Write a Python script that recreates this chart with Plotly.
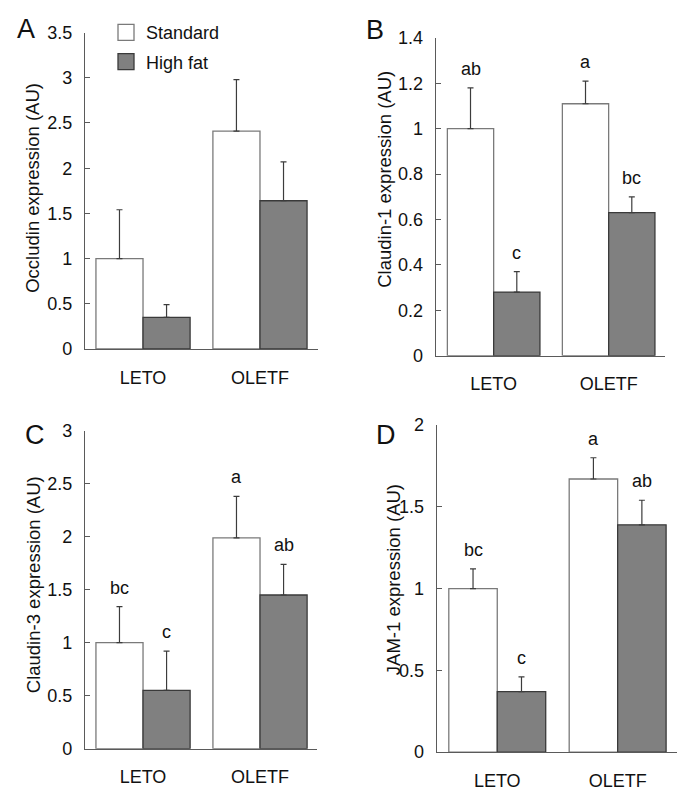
import plotly.graph_objects as go

# Positions below are given in window pixels; FX/FY convert them to figure pixels
# (the page body adds a small offset around the figure).
W, H = 669, 802
FONT = "Liberation Sans, Arial, sans-serif"

categories = ["LETO", "OLETF"]
series_names = ["Standard", "High fat"]

# Panel A - Occludin
occludin_standard = [1.00, 2.41]
occludin_standard_err = [0.54, 0.57]
occludin_highfat = [0.35, 1.64]
occludin_highfat_err = [0.14, 0.43]

# Panel B - Claudin-1
claudin1_standard = [1.00, 1.11]
claudin1_standard_err = [0.18, 0.10]
claudin1_highfat = [0.28, 0.63]
claudin1_highfat_err = [0.09, 0.07]
claudin1_standard_letters = ["ab", "a"]
claudin1_highfat_letters = ["c", "bc"]

# Panel C - Claudin-3
claudin3_standard = [1.00, 1.99]
claudin3_standard_err = [0.34, 0.39]
claudin3_highfat = [0.55, 1.45]
claudin3_highfat_err = [0.37, 0.29]
claudin3_standard_letters = ["bc", "a"]
claudin3_highfat_letters = ["c", "ab"]

# Panel D - JAM-1
jam1_standard = [1.00, 1.67]
jam1_standard_err = [0.12, 0.13]
jam1_highfat = [0.37, 1.39]
jam1_highfat_err = [0.09, 0.15]
jam1_standard_letters = ["bc", "a"]
jam1_highfat_letters = ["c", "ab"]

STD_FILL, STD_LINE = "#ffffff", "#7a7a7a"
HF_FILL, HF_LINE = "#808080", "#3a3a3a"
AX_COL = "#5a5a5a"
TXT = "#111111"
BARGAP = 0.195


def px_x(p):
    return (p - 8) / W


def px_y(p):
    fy = (p - 18.4) / 0.974
    return 1 - fy / H


panels = [
    dict(letter="A", title="Occludin expression (AU)",
         std=occludin_standard, std_err=occludin_standard_err,
         hf=occludin_highfat, hf_err=occludin_highfat_err,
         std_let=None, hf_let=None,
         xdom=(85, 318), ydom=(33, 349), xr=(-0.496, 1.496), yr=(0, 3.5), dtick=0.5,
         title_pos=(33, 188), letter_pos=(26, 29)),
    dict(letter="B", title="Claudin-1 expression (AU)",
         std=claudin1_standard, std_err=claudin1_standard_err,
         hf=claudin1_highfat, hf_err=claudin1_highfat_err,
         std_let=claudin1_standard_letters, hf_let=claudin1_highfat_letters,
         xdom=(435.7, 665), ydom=(38.3, 355.7), xr=(-0.504, 1.49), yr=(0, 1.4), dtick=0.2,
         title_pos=(385, 180), letter_pos=(375, 30)),
    dict(letter="C", title="Claudin-3 expression (AU)",
         std=claudin3_standard, std_err=claudin3_standard_err,
         hf=claudin3_highfat, hf_err=claudin3_highfat_err,
         std_let=claudin3_standard_letters, hf_let=claudin3_highfat_letters,
         xdom=(85, 317), ydom=(430.7, 748.3), xr=(-0.496, 1.487), yr=(0, 3), dtick=0.5,
         title_pos=(33, 585), letter_pos=(35, 435)),
    dict(letter="D", title="JAM-1 expression (AU)",
         std=jam1_standard, std_err=jam1_standard_err,
         hf=jam1_highfat, hf_err=jam1_highfat_err,
         std_let=jam1_standard_letters, hf_let=jam1_highfat_letters,
         xdom=(436.7, 677), ydom=(425, 751.7), xr=(-0.503, 1.493), yr=(0, 2), dtick=0.5,
         title_pos=(393, 580), letter_pos=(386, 435)),
]

fig = go.Figure()
annotations = []
half = (1 - BARGAP) / 4

for i, p in enumerate(panels):
    n = "" if i == 0 else str(i + 1)
    xa, ya = "x" + n, "y" + n
    for vals, errs, fill, line, name in [
        (p["std"], p["std_err"], STD_FILL, STD_LINE, series_names[0]),
        (p["hf"], p["hf_err"], HF_FILL, HF_LINE, series_names[1]),
    ]:
        fig.add_trace(go.Bar(
            x=categories, y=vals, name=name, showlegend=False,
            xaxis=xa, yaxis=ya,
            marker=dict(color=fill, line=dict(color=line, width=1.3)),
            error_y=dict(type="data", array=errs, arrayminus=[0] * len(errs),
                         symmetric=False, color="#3c3c3c", thickness=1.2, width=3),
        ))
    lay_x = dict(domain=[px_x(p["xdom"][0]), px_x(p["xdom"][1])], range=list(p["xr"]),
                 anchor=ya, showline=True, linecolor=AX_COL, linewidth=1.3,
                 ticks="", showgrid=False, zeroline=False,
                 tickfont=dict(family=FONT, size=18, color=TXT),
                 ticklabelstandoff=12, fixedrange=True)
    lay_y = dict(domain=[px_y(p["ydom"][1]), px_y(p["ydom"][0])], range=list(p["yr"]),
                 anchor=xa, showline=True, linecolor=AX_COL, linewidth=1.3,
                 ticks="inside", ticklen=5, tickcolor=AX_COL, tickwidth=1.2,
                 dtick=p["dtick"], tick0=0, showgrid=False, zeroline=False,
                 tickfont=dict(family=FONT, size=18, color=TXT),
                 ticklabelstandoff=8, fixedrange=True)
    fig.update_layout(**{"xaxis" + n: lay_x, "yaxis" + n: lay_y})

    annotations.append(dict(text=p["title"], textangle=-90, xref="paper", yref="paper",
                            x=px_x(p["title_pos"][0]), y=px_y(p["title_pos"][1]),
                            xanchor="center", yanchor="middle", showarrow=False,
                            font=dict(family=FONT, size=18.5, color=TXT)))
    annotations.append(dict(text=p["letter"], xref="paper", yref="paper",
                            x=px_x(p["letter_pos"][0]), y=px_y(p["letter_pos"][1]),
                            xanchor="center", yanchor="middle", showarrow=False,
                            font=dict(family=FONT, size=27, color=TXT)))
    for lets, vals, errs, off in [(p["std_let"], p["std"], p["std_err"], -half),
                                  (p["hf_let"], p["hf"], p["hf_err"], half)]:
        if lets is None:
            continue
        for k, t in enumerate(lets):
            annotations.append(dict(text=t, xref=xa, yref=ya, x=k + off, y=vals[k] + errs[k],
                                    xanchor="center", yanchor="middle", yshift=19,
                                    showarrow=False,
                                    font=dict(family=FONT, size=18, color=TXT)))

for name, fill, line in [(series_names[0], STD_FILL, STD_LINE), (series_names[1], HF_FILL, HF_LINE)]:
    fig.add_trace(go.Scatter(x=[None], y=[None], mode="markers", name=name,
                             legendgroup=name,
                             marker=dict(symbol="square", size=16, color=fill,
                                         line=dict(color=line, width=1.3)),
                             xaxis="x", yaxis="y"))

fig.update_layout(
    width=W, height=H, margin=dict(l=0, r=0, t=0, b=0),
    paper_bgcolor="white", plot_bgcolor="white",
    barmode="group", bargap=BARGAP, bargroupgap=0,
    showlegend=True,
    legend=dict(x=px_x(106), y=1 + 4 / H, xanchor="left", yanchor="top",
                font=dict(family=FONT, size=18, color=TXT),
                bgcolor="rgba(0,0,0,0)", tracegroupgap=3,
                itemsizing="trace"),
    annotations=annotations,
)

fig.write_html("out.html")
